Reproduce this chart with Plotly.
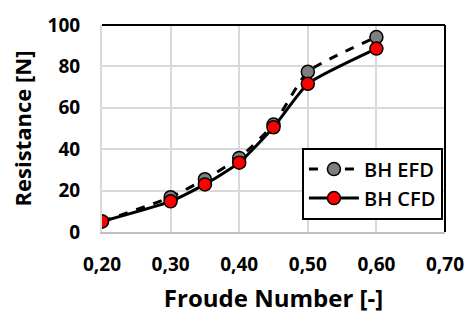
import plotly.graph_objects as go

froude = [0.20, 0.30, 0.35, 0.40, 0.45, 0.50, 0.60]
efd = [5.1, 16.8, 25.5, 35.8, 51.9, 77.4, 94.2]
cfd = [5.1, 14.8, 23.0, 33.5, 50.6, 71.6, 88.6]
x_ticks = [0.20, 0.30, 0.40, 0.50, 0.60, 0.70]
y_ticks = [0, 20, 40, 60, 80, 100]

fig = go.Figure()
fig.add_trace(go.Scatter(
    x=froude, y=efd, name="BH EFD", mode="lines+markers",
    line=dict(color="black", width=3, dash="dash", shape="spline", smoothing=0.5),
    marker=dict(size=13, color="#7f7f7f", line=dict(color="black", width=1.5)),
))
fig.add_trace(go.Scatter(
    x=froude, y=cfd, name="BH CFD", mode="lines+markers",
    line=dict(color="black", width=3, shape="spline", smoothing=0.5),
    marker=dict(size=13, color="#ff0000", line=dict(color="black", width=1.5)),
))

font_family = "Open Sans"
fig.update_layout(
    width=476, height=320,
    margin=dict(l=102, r=24, t=21, b=85),
    paper_bgcolor="white", plot_bgcolor="white",
    separators=", ",
    font=dict(family=font_family, color="black"),
    showlegend=True,
    legend=dict(
        x=0.994, y=0.06, xanchor="right", yanchor="bottom",
        bgcolor="white", bordercolor="black", borderwidth=2,
        font=dict(size=20, family=font_family, color="black", weight=600),
        itemwidth=50, tracegroupgap=4,
    ),
)
fig.update_xaxes(
    range=[0.2, 0.7], tickvals=x_ticks, tickformat=".2f",
    showgrid=True, gridcolor="#d9d9d9", gridwidth=2,
    showline=True, linecolor="#bfbfbf", linewidth=2,
    zeroline=False, ticks="", ticklabelstandoff=14,
    tickfont=dict(size=19, family=font_family, weight="bold"),
    title=dict(text="Froude Number [-]", font=dict(size=24, family=font_family, weight="bold"), standoff=14),
)
fig.update_yaxes(
    range=[0, 100], tickvals=y_ticks,
    showgrid=True, gridcolor="#d9d9d9", gridwidth=2,
    showline=True, linecolor="#d9d9d9", linewidth=2,
    zeroline=False, ticks="", ticklabelstandoff=16,
    tickfont=dict(size=19, family=font_family, weight="bold"),
    title=dict(text="Resistance [N]", font=dict(size=22, family=font_family, weight="bold"), standoff=10),
)
fig.add_shape(type="line", xref="paper", yref="paper", x0=0, x1=1, y0=1, y1=1,
              line=dict(color="black", width=2))
fig.add_shape(type="line", xref="paper", yref="paper", x0=1, x1=1, y0=0, y1=1,
              line=dict(color="black", width=2))

fig.write_html("out.html")
